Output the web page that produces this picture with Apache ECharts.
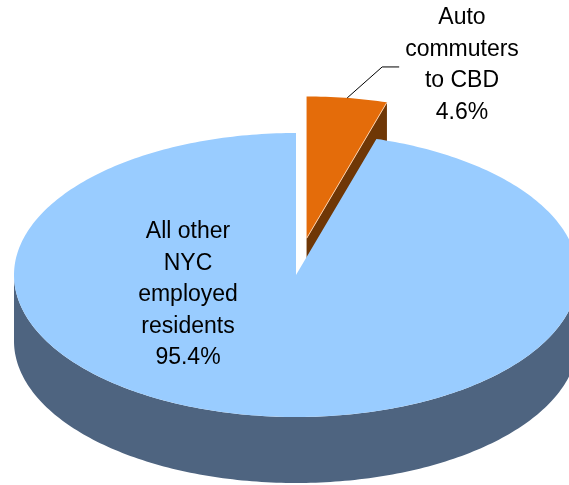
<!DOCTYPE html>
<html>
<head>
<meta charset="utf-8">
<script src="https://cdn.jsdelivr.net/npm/echarts@6/dist/echarts.min.js"></script>
<style>
  html, body { margin: 0; padding: 0; background: #ffffff; }
  #chart { width: 569px; height: 485px; }
</style>
</head>
<body>
<div id="chart"></div>
<script>
// Slices, in clockwise order from 12 o'clock
const categories = ['Auto\ncommuters\nto CBD', 'All other\nNYC\nemployed\nresidents'];
const shares = [4.6, 95.4];

// Look of each slice
const topColors = ['#E46C0A', '#99CCFF'];
const sideColors = ['#6F3706', '#4E6480'];
const explodeBy = [0.26, 0];          // pull-out as a fraction of the radius
// Label anchors relative to the pie centre (px), and whether a leader line is drawn
const labelAnchors = [[166, -210], [-108, 20]];
const leaderLines = [true, false];

// Pie geometry (px)
const CX = 296, CY = 275, RX = 282, RY = 142, DEPTH = 66;
const FONT = '"Liberation Sans", Arial, sans-serif';

const total = shares.reduce((a, b) => a + b, 0);
const slices = [];
let acc = 90;
shares.forEach(function (v, i) {
  const span = v / total * 360;
  const start = acc, end = acc - span;
  const mid = (start + end) / 2;
  const rad = mid * Math.PI / 180;
  slices.push({
    start: start, end: end, mid: mid,
    ox: explodeBy[i] * RX * Math.cos(rad),
    oy: -explodeBy[i] * RY * Math.sin(rad)
  });
  acc = end;
});
// back slices are painted first
const paintOrder = slices.map((s, i) => i)
  .sort((a, b) => Math.sin(slices[b].mid * Math.PI / 180) - Math.sin(slices[a].mid * Math.PI / 180));

function pt(deg, ox, oy, dy) {
  const r = deg * Math.PI / 180;
  return [CX + ox + RX * Math.cos(r), CY + oy + dy - RY * Math.sin(r)];
}
function arc(a0, a1, ox, oy, dy) {
  const n = Math.max(2, Math.ceil(Math.abs(a1 - a0)));
  const out = [];
  for (let k = 0; k <= n; k++) out.push(pt(a0 + (a1 - a0) * k / n, ox, oy, dy));
  return out;
}

function renderItem(params, api) {
  const i = params.dataIndex;
  const s = slices[i];
  const rank = paintOrder.indexOf(i);
  const base = rank * 10;
  const children = [];
  const c0 = [CX + s.ox, CY + s.oy];
  const c1 = [CX + s.ox, CY + s.oy + DEPTH];

  // radial cut walls
  [[s.start, -1], [s.end, 1]].forEach(function (w) {
    const phi = w[0], cs = Math.cos(phi * Math.PI / 180) * w[1];
    if (cs > 1e-6) {
      const e0 = pt(phi, s.ox, s.oy, 0), e1 = pt(phi, s.ox, s.oy, DEPTH);
      children.push({
        type: 'polygon', z2: base + 1,
        shape: { points: [c0, e0, e1, c1] },
        style: { fill: sideColors[i] }
      });
      children.push({
        type: 'line', z2: base + 4,
        shape: { x1: c0[0], y1: c0[1], x2: e0[0], y2: e0[1] },
        style: { stroke: 'rgba(255,214,180,0.9)', lineWidth: 1 }
      });
    }
  });

  // outer curved wall: the part facing the viewer
  for (let k = -2; k <= 1; k++) {
    const lo = Math.max(s.end, -180 + 360 * k), hi = Math.min(s.start, 360 * k);
    if (hi > lo) {
      const topArc = arc(hi, lo, s.ox, s.oy, 0);
      const botArc = arc(lo, hi, s.ox, s.oy, DEPTH);
      children.push({
        type: 'polygon', z2: base + 2,
        shape: { points: topArc.concat(botArc) },
        style: { fill: sideColors[i] }
      });
    }
  }

  // top face
  children.push({
    type: 'polygon', z2: base + 3,
    shape: { points: [c0].concat(arc(s.start, s.end, s.ox, s.oy, 0)) },
    style: { fill: topColors[i] }
  });

  // label
  const pct = api.value(0).toFixed(1) + '%';
  const lx = CX + labelAnchors[i][0], ly = CY + labelAnchors[i][1];
  children.push({
    type: 'text', z2: 100,
    style: {
      text: categories[i] + '\n' + pct,
      x: lx, y: ly, align: 'center', verticalAlign: 'middle',
      fontFamily: FONT, fontSize: 23, lineHeight: 31.5, fill: '#000000'
    }
  });
  if (leaderLines[i]) {
    const p0 = pt(s.mid, s.ox, s.oy, 0);
    const p1 = [p0[0] + 35, p0[1] - 31];
    const p2 = [p1[0] + 17, p1[1]];
    children.push({
      type: 'polyline', z2: 100,
      shape: { points: [p0, p1, p2] },
      style: { stroke: '#000000', lineWidth: 1, fill: null }
    });
  }
  return { type: 'group', children: children };
}

const chart = echarts.init(document.getElementById('chart'), null, { renderer: 'canvas' });
chart.setOption({
  backgroundColor: '#ffffff',
  animation: false,
  series: [{
    type: 'custom',
    coordinateSystem: 'none',
    renderItem: renderItem,
    data: shares.map((v, i) => ({ name: categories[i], value: [v] }))
  }]
});
</script>
</body>
</html>
